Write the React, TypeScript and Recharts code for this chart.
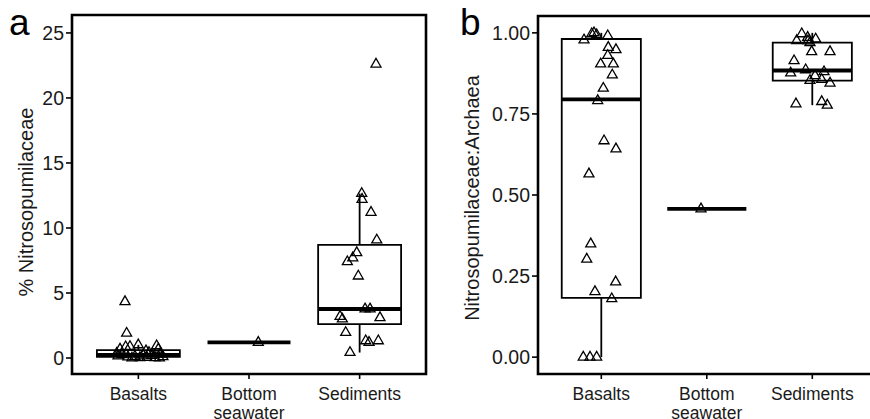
import React from 'react';
import {
  ComposedChart,
  Scatter,
  XAxis,
  YAxis,
  ReferenceArea,
  ReferenceLine,
  Customized,
} from 'recharts';

// ---------- data ----------
const categories = ['Basalts', 'Bottom seawater', 'Sediments'];

// Panel a: % Nitrosopumilaceae
const aBasaltsValues = [4.33, 1.9, 0.86, 0.88, 1.01, 0.55, 0.42, 0.94, 0.68, 0.68, 0.35, 0.3, 0.25, 0.22, 0.2, 0.15, 0.12, 0.1, 0.08, 0.05, 0.03, 0.02, 0.0, 0.0];
const aBasaltsJitter = [-0.121, -0.106, -0.115, -0.076, -0.001, 0.069, 0.096, 0.165, 0.18, -0.166, -0.196, 0.195, -0.148, 0.042, 0.123, -0.184, -0.031, 0.222, -0.094, 0.078, 0.014, 0.15, -0.058, 0.19];
const aSeawaterValues = [1.2];
const aSeawaterJitter = [0.084];
const aSedimentsValues = [22.6, 12.65, 12.2, 11.2, 9.07, 8.1, 7.7, 7.4, 6.3, 3.77, 3.77, 3.2, 3.0, 3.1, 1.96, 1.32, 1.2, 1.32, 0.42];
const aSedimentsJitter = [0.148, 0.019, 0.022, 0.103, 0.155, -0.026, -0.062, -0.111, -0.012, 0.049, 0.094, -0.177, -0.156, 0.184, -0.126, 0.055, 0.085, 0.169, -0.087];
const aLower = [0.0, 1.2, 0.42];
const aQ1 = [0.08, 1.2, 2.6];
const aMedian = [0.23, 1.2, 3.77];
const aQ3 = [0.6, 1.2, 8.7];
const aUpper = [1.01, 1.2, 12.65];
const aTicks = [0, 5, 10, 15, 20, 25];

// Panel b: Nitrosopumilaceae:Archaea
const bBasaltsValues = [0.978, 0.997, 1.0, 0.994, 0.991, 0.955, 0.948, 0.93, 0.904, 0.904, 0.87, 0.829, 0.791, 0.667, 0.642, 0.565, 0.349, 0.302, 0.232, 0.202, 0.18, 0.0, 0.0, 0.0];
const bBasaltsJitter = [-0.164, -0.091, -0.069, -0.044, 0.061, 0.066, 0.139, 0.061, -0.006, 0.114, 0.104, 0.019, -0.034, 0.026, 0.139, -0.117, -0.1, -0.138, 0.136, -0.06, 0.099, -0.171, -0.107, -0.044];
const bSeawaterValues = [0.457];
const bSeawaterJitter = [-0.055];
const bSedimentsValues = [0.997, 0.976, 0.986, 0.975, 0.97, 0.981, 0.942, 0.942, 0.914, 0.876, 0.886, 0.88, 0.868, 0.853, 0.856, 0.845, 0.781, 0.788, 0.777];
const bSedimentsJitter = [-0.1, -0.148, -0.044, -0.041, -0.022, 0.032, -0.006, 0.168, -0.173, -0.205, -0.063, 0.111, 0.026, -0.022, 0.089, 0.168, -0.155, 0.089, 0.142];
const bLower = [0.0, 0.457, 0.777];
const bQ1 = [0.183, 0.457, 0.853];
const bMedian = [0.795, 0.457, 0.884];
const bQ3 = [0.981, 0.457, 0.97];
const bUpper = [1.0, 0.457, 1.0];
const bTicks = [0, 0.25, 0.5, 0.75, 1.0];

// ---------- helpers ----------
const FONT = '"Liberation Sans", Arial, Helvetica, sans-serif';
const BOX_HALF = 0.375;
const X_DOMAIN: [number, number] = [0.4, 3.6];

function buildPoints(groups: { values: number[]; jitter: number[] }[]) {
  const out: { x: number; y: number }[] = [];
  groups.forEach((g, gi) => {
    g.values.forEach((v, i) => out.push({ x: gi + 1 + g.jitter[i], y: v }));
  });
  return out;
}

const Triangle = (props: any) => {
  const { cx, cy } = props;
  if (cx == null || cy == null) return null;
  return (
    <path
      d={`M${cx},${cy - 5.8}L${cx + 5},${cy + 2.9}L${cx - 5},${cy + 2.9}Z`}
      fill="none"
      stroke="#000"
      strokeWidth={1.3}
    />
  );
};

const CatTick = (props: any) => {
  const { x, y, payload } = props;
  const name = categories[Math.round(payload.value) - 1] || '';
  const words = name.split(' ');
  return (
    <text x={x} y={y} textAnchor="middle" fontFamily={FONT} fontSize={17.5} fill="#1a1a1a">
      {words.map((w, i) => (
        <tspan key={i} x={x} dy={i === 0 ? 18.5 : 19}>
          {w}
        </tspan>
      ))}
    </text>
  );
};

type PanelProps = {
  letter: string;
  title: string;
  titleX: number;
  titleY: number;
  letterX: number;
  points: { x: number; y: number }[];
  lower: number[];
  q1: number[];
  median: number[];
  q3: number[];
  upper: number[];
  domain: [number, number];
  ticks: number[];
  fmt: (v: number) => string;
  margin: { top: number; right: number; bottom: number; left: number };
  width: number;
};

function Panel(p: PanelProps) {
  return (
    <ComposedChart width={p.width} height={419} margin={p.margin}>
      <XAxis
        type="number"
        dataKey="x"
        domain={X_DOMAIN}
        ticks={[1, 2, 3]}
        allowDataOverflow
        axisLine={false}
        tickLine={{ stroke: '#000', strokeWidth: 1.6 }}
        tickSize={5}
        tick={<CatTick />}
        height={45}
        interval={0}
      />
      <YAxis
        type="number"
        dataKey="y"
        domain={p.domain}
        ticks={p.ticks}
        allowDataOverflow
        axisLine={false}
        tickLine={{ stroke: '#000', strokeWidth: 1.6 }}
        tickSize={6}
        width={60}
        interval={0}
        tickFormatter={p.fmt}
        tick={{ fontFamily: FONT, fontSize: 19.5, fill: '#1a1a1a' }}
      />
      {categories.map((c, i) => (
        <ReferenceArea
          key={'box' + c}
          x1={i + 1 - BOX_HALF}
          x2={i + 1 + BOX_HALF}
          y1={p.q1[i]}
          y2={p.q3[i]}
          fill="none"
          fillOpacity={0}
          stroke="#000"
          strokeWidth={1.8}
          ifOverflow="visible"
        />
      ))}
      {categories.map((c, i) => (
        <ReferenceLine
          key={'wu' + c}
          segment={[
            { x: i + 1, y: p.q3[i] },
            { x: i + 1, y: p.upper[i] },
          ]}
          stroke="#000"
          strokeWidth={1.8}
          ifOverflow="visible"
        />
      ))}
      {categories.map((c, i) => (
        <ReferenceLine
          key={'wl' + c}
          segment={[
            { x: i + 1, y: p.lower[i] },
            { x: i + 1, y: p.q1[i] },
          ]}
          stroke="#000"
          strokeWidth={1.8}
          ifOverflow="visible"
        />
      ))}
      {categories.map((c, i) => (
        <ReferenceLine
          key={'med' + c}
          segment={[
            { x: i + 1 - BOX_HALF, y: p.median[i] },
            { x: i + 1 + BOX_HALF, y: p.median[i] },
          ]}
          stroke="#000"
          strokeWidth={3.8}
          ifOverflow="visible"
        />
      ))}
      <ReferenceArea
        x1={X_DOMAIN[0]}
        x2={X_DOMAIN[1]}
        y1={p.domain[0]}
        y2={p.domain[1]}
        fill="none"
        fillOpacity={0}
        stroke="#000"
        strokeWidth={2.6}
        ifOverflow="visible"
      />
      <Scatter data={p.points} dataKey="y" shape={<Triangle />} isAnimationActive={false} />
      <Customized
        component={() => (
          <g>
            <text x={p.letterX} y={35} fontFamily={FONT} fontSize={37} fill="#000">
              {p.letter}
            </text>
            <text
              x={p.titleX}
              y={p.titleY}
              transform={`rotate(-90 ${p.titleX} ${p.titleY})`}
              textAnchor="middle"
              dominantBaseline="central"
              fontFamily={FONT}
              fontSize={20}
              fill="#1a1a1a"
            >
              {p.title}
            </text>
          </g>
        )}
      />
    </ComposedChart>
  );
}

const aPoints = buildPoints([
  { values: aBasaltsValues, jitter: aBasaltsJitter },
  { values: aSeawaterValues, jitter: aSeawaterJitter },
  { values: aSedimentsValues, jitter: aSedimentsJitter },
]);
const bPoints = buildPoints([
  { values: bBasaltsValues, jitter: bBasaltsJitter },
  { values: bSeawaterValues, jitter: bSeawaterJitter },
  { values: bSedimentsValues, jitter: bSedimentsJitter },
]);

export default function App() {
  return (
    <div
      style={{
        position: 'absolute',
        left: 0,
        top: 0,
        width: 870,
        height: 419,
        overflow: 'hidden',
        background: '#fff',
      }}
    >
      <div style={{ position: 'absolute', left: 0, top: 0 }}>
        <Panel
          letter="a"
          title="% Nitrosopumilaceae"
          titleX={26}
          titleY={202}
          letterX={9}
          points={aPoints}
          lower={aLower}
          q1={aQ1}
          median={aMedian}
          q3={aQ3}
          upper={aUpper}
          domain={[-1.23, 26.38]}
          ticks={aTicks}
          fmt={(v) => String(v)}
          margin={{ top: 15, right: 14, bottom: 0, left: 12 }}
          width={440}
        />
      </div>
      <div style={{ position: 'absolute', left: 440, top: 0 }}>
        <Panel
          letter="b"
          title="Nitrosopumilaceae:Archaea"
          titleX={32}
          titleY={198}
          letterX={20}
          points={bPoints}
          lower={bLower}
          q1={bQ1}
          median={bMedian}
          q3={bQ3}
          upper={bUpper}
          domain={[-0.052, 1.052]}
          ticks={bTicks}
          fmt={(v) => v.toFixed(2)}
          margin={{ top: 16, right: 4.4, bottom: 0, left: 38 }}
          width={440}
        />
      </div>
    </div>
  );
}
